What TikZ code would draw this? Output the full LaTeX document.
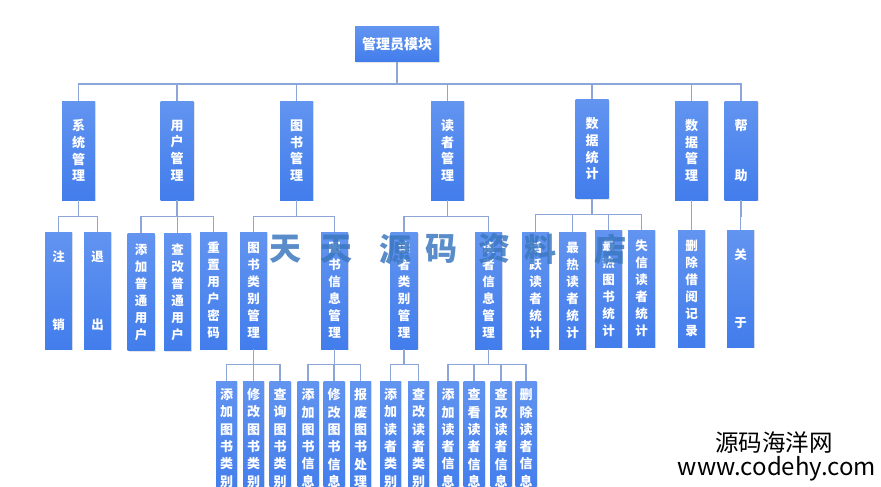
\documentclass[tikz,border=0pt]{standalone}
\usepackage{fontspec}
\newfontfamily\cjk{Noto Sans CJK SC}
\usetikzlibrary{shadows}
\definecolor{boxtop}{RGB}{98,148,240}
\definecolor{boxbot}{RGB}{66,125,236}
\definecolor{linec}{RGB}{140,166,218}
\definecolor{wmc}{RGB}{60,120,192}
\newcommand\conn[3]{\draw[conn] (#1.south) -- ++(0,#3) -| (#2.north);}
\begin{document}
\begin{tikzpicture}[x=1pt,y=-1pt,
  bx/.style={rectangle, inner sep=0pt, top color=boxtop, bottom color=boxbot, draw=none, text=white, align=center,
    drop shadow={shadow xshift=1pt, shadow yshift=-1pt, opacity=0.2}},
  L0/.style={bx, minimum width=84pt, minimum height=35pt, font=\cjk\bfseries\fontsize{14}{16}\selectfont},
  L1/.style={bx, minimum width=33pt, minimum height=99pt, font=\cjk\bfseries\fontsize{13}{16.7}\selectfont},
  L2/.style={bx, minimum width=27pt, minimum height=117pt, font=\cjk\bfseries\fontsize{12.5}{17}\selectfont},
  L3/.style={bx, minimum width=21pt, minimum height=114pt, font=\cjk\bfseries\fontsize{13}{17.3}\selectfont},
  conn/.style={draw=linec, line width=1.4pt},
  wm/.style={text=wmc, text opacity=0.85, inner sep=0pt, font=\cjk\bfseries\fontsize{32}{32}\selectfont},
  site/.style={text=black, inner sep=0pt}]
\clip (0,0) rectangle (881,487);
\fill[white] (0,0) rectangle (881,487);
% root
\node[L0] (r) at (397,44.5) {管理员模块};
% level 1
\node[L1] (a1) at (78.5,150.5) {系\\统\\管\\理};
\node[L1] (a2) at (177,150.5) {用\\户\\管\\理};
\node[L1] (a3) at (296.5,150.5) {图\\书\\管\\理};
\node[L1] (a4) at (447.5,150.5) {读\\者\\管\\理};
\node[L1] (a5) at (592,149) {数\\据\\统\\计};
\node[L1] (a6) at (691.5,150.5) {数\\据\\管\\理};
\node[L1] (a7) at (741,150.5) {帮\\{}\\{}\\助};
% level 2
\node[L2] (b1) at (58.5,290.5) {注\\{}\\{}\\{}\\销};
\node[L2] (b2) at (97.5,290.5) {退\\{}\\{}\\{}\\出};
\node[L2] (b3) at (141,292) {添\\加\\普\\通\\用\\户};
\node[L2] (b4) at (177.5,292) {查\\改\\普\\通\\用\\户};
\node[L2] (b5) at (213.5,290.5) {重\\置\\用\\户\\密\\码};
\node[L2] (b6) at (253.5,290.5) {图\\书\\类\\别\\管\\理};
\node[L2] (b7) at (334.5,290.5) {图\\书\\信\\息\\管\\理};
\node[L2] (b8) at (404,290.5) {读\\者\\类\\别\\管\\理};
\node[L2] (b9) at (488.5,290.5) {读\\者\\信\\息\\管\\理};
\node[L2] (b10) at (535.5,290.5) {活\\跃\\读\\者\\统\\计};
\node[L2] (b11) at (572.5,290.5) {最\\热\\读\\者\\统\\计};
\node[L2] (b12) at (608.5,288.5) {最\\热\\图\\书\\统\\计};
\node[L2] (b13) at (641.5,288.5) {失\\信\\读\\者\\统\\计};
\node[L2] (b14) at (691.5,288.5) {删\\除\\借\\阅\\记\\录};
\node[L2] (b15) at (740.5,288.5) {关\\{}\\{}\\{}\\于};
% level 3
\node[L3] (c1) at (226.5,438) {添\\加\\图\\书\\类\\别};
\node[L3] (c2) at (253.5,438) {修\\改\\图\\书\\类\\别};
\node[L3] (c3) at (280,438) {查\\询\\图\\书\\类\\别};
\node[L3] (c4) at (308,438) {添\\加\\图\\书\\信\\息};
\node[L3] (c5) at (334,438) {修\\改\\图\\书\\信\\息};
\node[L3] (c6) at (360.5,438) {报\\废\\图\\书\\处\\理};
\node[L3] (c7) at (390.5,438) {添\\加\\读\\者\\类\\别};
\node[L3] (c8) at (418.5,438) {查\\改\\读\\者\\类\\别};
\node[L3] (c9) at (448,438) {添\\加\\读\\者\\信\\息};
\node[L3] (c10) at (474,438) {查\\看\\读\\者\\信\\息};
\node[L3] (c11) at (501,438) {查\\改\\读\\者\\信\\息};
\node[L3] (c12) at (526,438) {删\\除\\读\\者\\信\\息};
% connectors
\foreach \k in {a1,a2,a3,a4,a5,a6,a7} {\conn{r}{\k}{22}}
\foreach \k in {b1,b2} {\conn{a1}{\k}{16}}
\foreach \k in {b3,b4,b5} {\conn{a2}{\k}{16}}
\foreach \k in {b6,b7} {\conn{a3}{\k}{16}}
\foreach \k in {b8,b9} {\conn{a4}{\k}{16}}
\foreach \k in {b10,b11,b12,b13} {\conn{a5}{\k}{16}}
\conn{a6}{b14}{16}
\conn{a7}{b15}{16}
\foreach \k in {c1,c2,c3} {\conn{b6}{\k}{15}}
\foreach \k in {c4,c5,c6} {\conn{b7}{\k}{15}}
\foreach \k in {c7,c8} {\conn{b8}{\k}{15}}
\foreach \k in {c9,c10,c11,c12} {\conn{b9}{\k}{15}}
% watermark
\node[wm] (w1) at (285,249) {天};
\node[wm] (w2) at (336,249) {天};
\node[wm] (w3) at (395,249) {源};
\node[wm] (w4) at (441,249) {码};
\node[wm] (w5) at (494,249) {资};
\node[wm] (w6) at (540,249) {料};
\node[wm] (w7) at (610,249) {店};
% site label
\node[site, font=\cjk\fontsize{23.5}{24}\selectfont] (s1) at (774,443) {源码海洋网};
\node[site, font=\cjk\fontsize{24}{24}\selectfont, anchor=base] (s2) at (777,475) {www.codehy.com};
\end{tikzpicture}
\end{document}
